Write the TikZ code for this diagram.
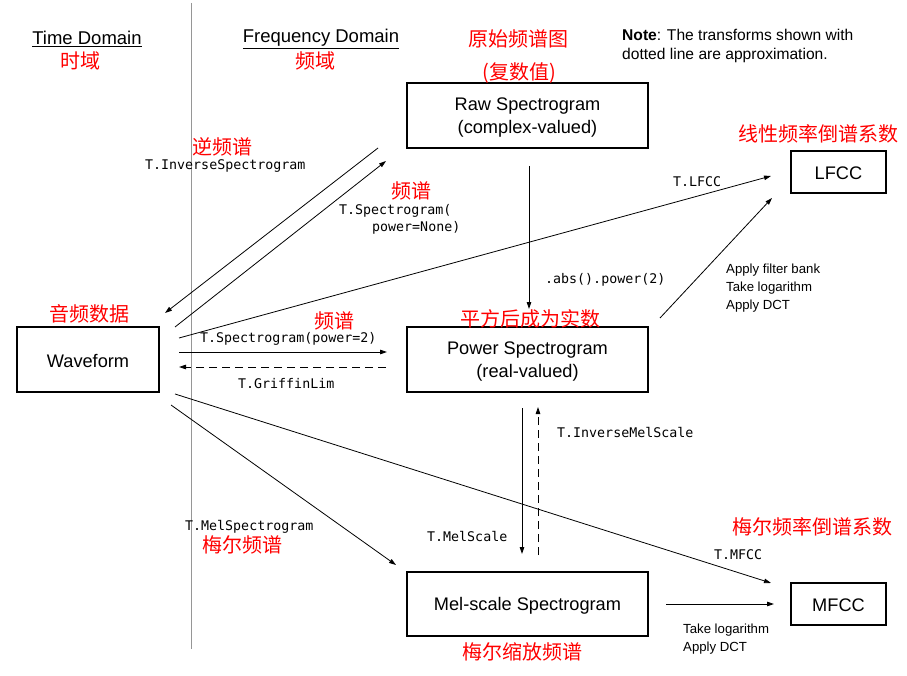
\documentclass[tikz,border=0pt]{standalone}
\usepackage{fontspec}
\setmainfont{Liberation Sans}
\newfontfamily\cjk{Noto Sans CJK SC}
\newfontfamily\monof{DejaVu Sans Mono}
\usetikzlibrary{arrows.meta}
\definecolor{divgray}{RGB}{150,150,150}
\begin{document}
\begin{tikzpicture}[x=1pt,y=-1pt,
  box/.style={draw, line width=1.1pt, inner sep=0pt},
  boxtext/.style={inner sep=0pt, align=center, font=\fontsize{18.2}{23}\selectfont},
  head/.style={inner sep=0pt, font=\fontsize{18.5}{22}\selectfont},
  cn/.style={inner sep=0pt, text=red, font=\cjk\fontsize{20}{24}\selectfont},
  code/.style={inner sep=0pt, anchor=west, font=\monof\fontsize{13.3}{17}\selectfont},
  small/.style={inner sep=0pt, anchor=west, align=left, font=\fontsize{13.2}{18}\selectfont},
  conn/.style={line width=0.8pt, -{Triangle[length=7pt,width=4.5pt]}},
  dconn/.style={conn, dash pattern=on 8pt off 5pt}]
\useasboundingbox (0,0) rectangle (907,676);
\fill[white] (0,0) rectangle (907,676);

% divider
\coordinate (divtop) at (191,3);
\coordinate (divbot) at (191,649);
\draw[divgray, line width=1pt] (divtop) -- (divbot);

% headings
\node[head] (thead) at (87,39) {\underline{Time Domain}};
\node[cn] (tcn) at (80,60.5) {时域};
\node[head] (fhead) at (321,39) {\underline{Frequency Domain}};
\node[cn] (fcn) at (315,60.5) {频域};

% note
\node[anchor=west, align=left, inner sep=0pt, font=\fontsize{15.6}{19}\selectfont] (note) at (622,46)
  {\textbf{Note}: The transforms shown with\\dotted line are approximation.};

% boxes
\node[box, minimum width=241pt, minimum height=65pt] (raw) at (527.5,115.5) {};
\node[box, minimum width=241pt, minimum height=65pt] (power) at (527.5,359.5) {};
\node[box, minimum width=241pt, minimum height=64pt] (mel) at (527.5,604) {};
\node[box, minimum width=142pt, minimum height=65pt] (wave) at (88,359.5) {};
\node[box, minimum width=95pt, minimum height=42pt] (lfcc) at (838.5,172) {};
\node[box, minimum width=95pt, minimum height=42pt] (mfcc) at (838.5,604) {};
\node[boxtext] (rawt) at ([yshift=-2.5pt]raw.center) {Raw Spectrogram\\(complex-valued)};
\node[boxtext] (powert) at ([yshift=-2.5pt]power.center) {Power Spectrogram\\(real-valued)};
\node[boxtext] (melt) at ([yshift=-2pt]mel.center) {Mel-scale Spectrogram};
\node[boxtext] (wavet) at ([yshift=-2pt]wave.center) {Waveform};
\node[boxtext] (lfcct) at ([yshift=-1pt]lfcc.center) {LFCC};
\node[boxtext] (mfcct) at ([yshift=-1pt]mfcc.center) {MFCC};

% chinese labels
\node[cn] (rawcn1) at (518,38.5) {原始频谱图};
\node[cn] (rawcn2) at (519,73.5) {(复数值)};
\node[cn] (lfcccn) at (818,133.5) {线性频率倒谱系数};
\node[cn] (wavecn) at (89,313.5) {音频数据};
\node[cn] (powcn) at (530,318.5) {平方后成为实数};
\node[cn] (melcn) at (522,651.5) {梅尔缩放频谱};
\node[cn] (mfcccn) at (812,526.5) {梅尔频率倒谱系数};
\node[cn] (invcn) at (222,146.5) {逆频谱};
\node[cn] (speccn) at (411,190.5) {频谱};
\node[cn] (spec2cn) at (334,320.5) {频谱};
\node[cn] (melspcn) at (242,544.5) {梅尔频谱};

% endpoints
\coordinate (invS) at (378,148);
\coordinate (invE) at (165,313);
\coordinate (spS) at (175,327);
\coordinate (spE) at (386,161);
\coordinate (lfS) at (179,338);
\coordinate (lfE) at (771,176);
\coordinate (p2S) at (179,352);
\coordinate (p2E) at (387,352);
\coordinate (glS) at (386,367);
\coordinate (glE) at (179,367);
\coordinate (msS) at (171,405);
\coordinate (msE) at (396,565);
\coordinate (mfS) at (175,394);
\coordinate (mfE) at (771,583);
\coordinate (abS) at (529,166);
\coordinate (abE) at (529,309);
\coordinate (fbS) at (660,318);
\coordinate (fbE) at (772,198);
\coordinate (mlS) at (522,408);
\coordinate (mlE) at (522,554);
\coordinate (imS) at (538,555);
\coordinate (imE) at (538,407);
\coordinate (mmS) at (666,604);
\coordinate (mmE) at (774,604);

% connectors
\draw[conn] (invS) -- (invE);
\draw[conn] (spS) -- (spE);
\draw[conn] (lfS) -- (lfE);
\draw[conn] (p2S) -- (p2E);
\draw[dconn] (glS) -- (glE);
\draw[conn] (msS) -- (msE);
\draw[conn] (mfS) -- (mfE);
\draw[conn] (abS) -- (abE);
\draw[conn] (fbS) -- (fbE);
\draw[conn] (mlS) -- (mlE);
\draw[dconn] (imS) -- (imE);
\draw[conn] (mmS) -- (mmE);

% code labels
\node[code] (l1) at (145,166) {T.InverseSpectrogram};
\node[code] (l2a) at (339,211) {T.Spectrogram(};
\node[code] (l2b) at (372,228) {power=None)};
\node[code] (l3) at (673,182) {T.LFCC};
\node[code] (l4) at (545,280) {.abs().power(2)};
\node[code] (l5) at (200,339) {T.Spectrogram(power=2)};
\node[code] (l6) at (238,384) {T.GriffinLim};
\node[code] (l7) at (557,433) {T.InverseMelScale};
\node[code] (l8) at (185,527) {T.MelSpectrogram};
\node[code] (l9) at (427,537) {T.MelScale};
\node[code] (l10) at (714,555) {T.MFCC};

% small text
\node[small] (fbtxt) at (726,288) {Apply filter bank\\Take logarithm\\Apply DCT};
\node[small] (mmtxt) at (683,639) {Take logarithm\\Apply DCT};
\end{tikzpicture}
\end{document}
